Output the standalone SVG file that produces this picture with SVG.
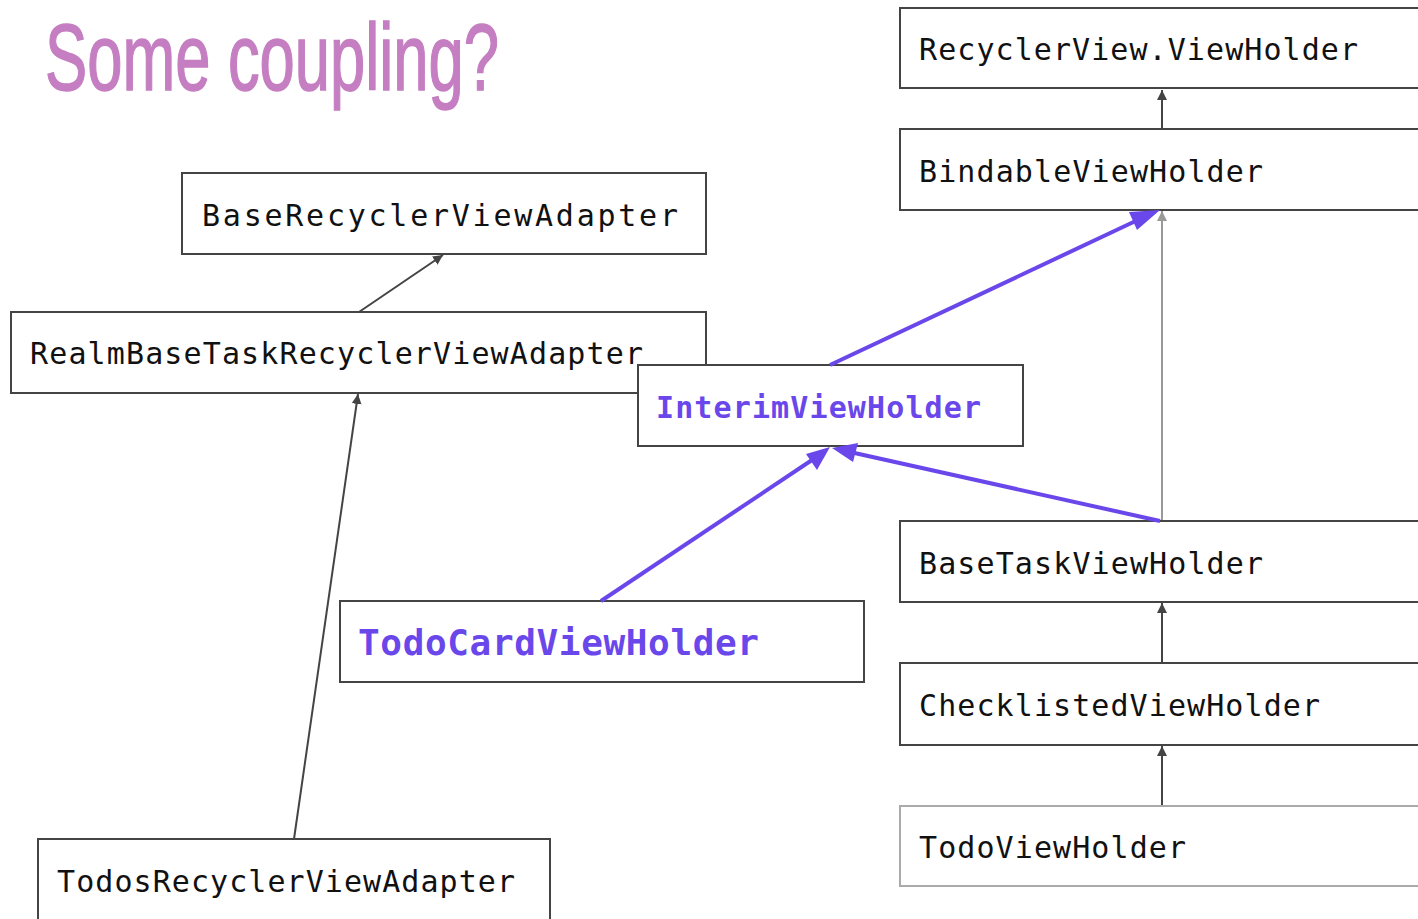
<svg xmlns="http://www.w3.org/2000/svg" width="1418" height="919" viewBox="0 0 1418 919">
<style>
.box{fill:#fff;stroke:#444;stroke-width:2}
.gbox{fill:#fff;stroke:#aaa;stroke-width:2}
.t{font-family:"DejaVu Sans Mono","Liberation Mono",monospace;font-size:30px;fill:#111}
.p{font-family:"DejaVu Sans Mono","Liberation Mono",monospace;font-weight:bold;fill:#6a47ea}
.dk{stroke:#444;stroke-width:2;fill:none}
.gr{stroke:#999;stroke-width:2;fill:none}
.pu{stroke:#6a47ea;stroke-width:4;fill:none}
.ph{fill:#6a47ea}
</style>
<defs>
<marker id="ad" viewBox="0 0 10 10" refX="10" refY="5" markerWidth="5" markerHeight="5" orient="auto" markerUnits="strokeWidth"><path d="M0,0 L10,5 L0,10 z" fill="#444"/></marker>
<marker id="ag" viewBox="0 0 10 10" refX="10" refY="5" markerWidth="5" markerHeight="5" orient="auto" markerUnits="strokeWidth"><path d="M0,0 L10,5 L0,10 z" fill="#999"/></marker>
</defs>
<rect width="1418" height="919" fill="#fff"/>
<text x="45" y="90" font-family="Liberation Sans, sans-serif" font-size="94" fill="#c57ec1" stroke="#c57ec1" stroke-width="1.5" textLength="454" lengthAdjust="spacingAndGlyphs">Some coupling?</text>

<g id="connectors">
<line class="dk" x1="1162" y1="129" x2="1162" y2="90" marker-end="url(#ad)"/>
<line class="dk" x1="359" y1="312" x2="443" y2="255" marker-end="url(#ad)"/>
<line class="dk" x1="294" y1="839" x2="358" y2="394" marker-end="url(#ad)"/>
<line class="gr" x1="1162" y1="521" x2="1162" y2="211" marker-end="url(#ag)"/>
<line class="dk" x1="1162" y1="663" x2="1162" y2="603" marker-end="url(#ad)"/>
<line class="dk" x1="1162" y1="806" x2="1162" y2="746" marker-end="url(#ad)"/>
</g>

<g id="n-recyclerviewholder"><rect class="box" x="900" y="8" width="530" height="80"/><text class="t" x="919" y="60" textLength="439">RecyclerView.ViewHolder</text></g>
<g id="n-bindable"><rect class="box" x="900" y="129" width="530" height="81"/><text class="t" x="919" y="182" textLength="344">BindableViewHolder</text></g>
<g id="n-baserecycler"><rect class="box" x="182" y="173" width="524" height="81"/><text class="t" x="202" y="226" textLength="476">BaseRecyclerViewAdapter</text></g>
<g id="n-realm"><rect class="box" x="11" y="312" width="695" height="81"/><text class="t" x="30" y="364" textLength="613">RealmBaseTaskRecyclerViewAdapter</text></g>
<g id="n-interim"><rect class="box" x="638" y="365" width="385" height="81"/><text class="p" x="656" y="418" font-size="30" textLength="325">InterimViewHolder</text></g>
<g id="n-basetask"><rect class="box" x="900" y="521" width="530" height="81"/><text class="t" x="919" y="574" textLength="344">BaseTaskViewHolder</text></g>
<g id="n-todocard"><rect class="box" x="340" y="601" width="524" height="81"/><text class="p" x="358" y="655" font-size="36" textLength="401">TodoCardViewHolder</text></g>
<g id="n-checklisted"><rect class="box" x="900" y="663" width="530" height="82"/><text class="t" x="919" y="716" textLength="401">ChecklistedViewHolder</text></g>
<g id="n-todoviewholder"><rect class="gbox" x="900" y="806" width="530" height="80"/><text class="t" x="919" y="858" textLength="267">TodoViewHolder</text></g>
<g id="n-todosadapter"><rect class="box" x="38" y="839" width="512" height="100"/><text class="t" x="57" y="892" textLength="458">TodosRecyclerViewAdapter</text></g>

<g id="connectors-purple">
<line class="pu" x1="830" y1="365" x2="1142" y2="218"/>
<path class="ph" d="M1160,210 L1137,230 L1129,212 z"/>
<line class="pu" x1="1160" y1="521" x2="850" y2="452"/>
<path class="ph" d="M832,448 L858,443 L853,462 z"/>
<line class="pu" x1="601" y1="601" x2="815" y2="458"/>
<path class="ph" d="M830,447 L817,470 L806,454 z"/>
</g>
</svg>
